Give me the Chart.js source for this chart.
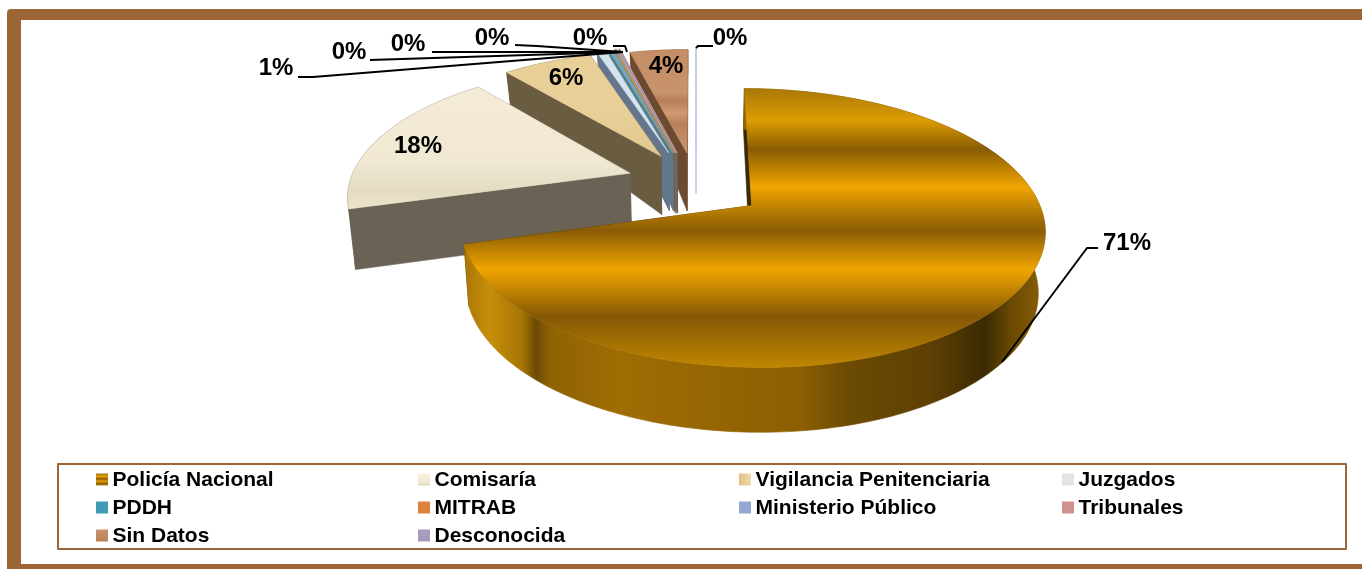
<!DOCTYPE html>
<html><head><meta charset="utf-8">
<style>html,body{margin:0;padding:0;background:#fff;overflow:hidden}canvas{display:block}</style>
<script src="https://cdn.jsdelivr.net/npm/chart.js@4"></script>
</head><body><canvas id="c" width="1362" height="569"></canvas>
<script>
// ---- data ----
const categories = ['Policía Nacional','Comisaría','Vigilancia Penitenciaria','Juzgados','PDDH','MITRAB','Ministerio Público','Tribunales','Sin Datos','Desconocida'];
const shares = [70.6,18.3,6.0,0.6,0.3,0.05,0.1,0.05,3.95,0.05];

// ---- styles and layout (not data) ----
const sliceExplodeU = [0.18,-0.245,-0.138,-0.11,-0.095,-0.09,-0.085,-0.08,-0.044,-0.011];
const sliceExplodeV = [0.12,-0.125,-0.26,-0.2875,-0.2875,-0.2875,-0.2875,-0.2875,-0.2875,-0.2875];
const sliceRadius = [0.985,0.985,1,1,1,1,1,1,0.98,1];
const topColors = ['#e0a000','#f0e8d2','#e6cd94','#d3e4ee','#6ea9b9','#e08a40','#94aed0','#d09090','#c48d65','#c4cfe2'];
const wallColors = ['#3a2a03','#6a6255','#6a5c40','#64758c','#5a7a88','#8a5a30','#5f7088','#7a5a50','#6b4a30','#c4cfe2'];
const swatchColors = [null,null,null,'#e1e5e8','#409cb5','#dc843f','#93a9d2','#d09090','#c48d65','#a99bc0'];
const wallDepthScale = [1,1,1,1,1,1,1,1,1,0.7];
const labelCenters = [[1127,243],[418,146],[566,78],[276,68],[349,52],[408,44],[492,38],[590,38],[666,66],[730,38]];
const leaders = [
  [[1098,248],[1087,248],[1002,362]],null,null,
  [[298,77],[313,77],[623,52]],
  [[370,60],[623,52]],
  [[432,52],[623,52]],
  [[515,45],[537,46],[623,52]],
  [[613,46],[625,46],[627,52]],null,
  [[713,46],[698,46],[696,48]]
];
const legendCols = [96,418,739,1062];
const legendRows = [480,508,536];
const FONT = '"Liberation Sans", Arial, sans-serif';
const P = {cx:699, cy:189.4, rx:287, ry:132.6, k:0.16};

function project(u,v){ const w=1-P.k*v; return [P.cx+P.rx*u/w, P.cy+P.ry*v/w]; }
function depthAt(v){ return v<0 ? 60-28*Math.min(1.3,(v/1.04)*(v/1.04)) : 60+5*(v/1.13); }
function projectBottom(u,v,s){ const p=project(u,v); return [P.cx+(p[0]-P.cx)*0.98, p[1]+depthAt(v)*s]; }
function pts(i,arc,fn){ // rim points in plane coords
  const out=[]; const n=Math.max(2,Math.ceil((arc.endAngle-arc.startAngle)/0.02)); const r=sliceRadius[i];
  for(let j=0;j<=n;j++){ const a=arc.startAngle+(arc.endAngle-arc.startAngle)*j/n;
    out.push(fn(sliceExplodeU[i]+r*Math.cos(a),sliceExplodeV[i]+r*Math.sin(a))); }
  return out;
}
function fillPoly(ctx,list,fill,thin){
  ctx.beginPath(); list.forEach((p,i)=>i?ctx.lineTo(p[0],p[1]):ctx.moveTo(p[0],p[1])); ctx.closePath();
  ctx.fillStyle=fill; ctx.fill();
  ctx.strokeStyle=fill; ctx.lineWidth=thin?1.2:0.6; ctx.stroke();
}
function gradY(ctx,y0,y1,stops){ const g=ctx.createLinearGradient(0,y0,0,y1); stops.forEach(s=>g.addColorStop(s[0],s[1])); return g; }
function gradX(ctx,x0,x1,stops){ const g=ctx.createLinearGradient(x0,0,x1,0); stops.forEach(s=>g.addColorStop((s[0]-x0)/(x1-x0),s[1])); return g; }

function mainTop(ctx){ return gradY(ctx,88,367,[[0,'#a87808'],[0.115,'#dc9c02'],[0.22,'#8a5c05'],[0.355,'#f0a500'],[0.51,'#8a5c05'],[0.65,'#f0a500'],[0.82,'#855805'],[1,'#c08600']]); }
function mainWall(ctx){ return gradX(ctx,462,1045,[[462,'#a87505'],[490,'#c68e0a'],[522,'#a87505'],[536,'#6b4a03'],[550,'#8f6204'],[620,'#a06d04'],[800,'#8c5f03'],[850,'#6b4a03'],[930,'#5f4003'],[985,'#3b2a03'],[1012,'#6b4a03'],[1045,'#8a6006']]); }

const pie3d = {
  id:'pie3d',
  beforeDraw(chart){
    const ctx=chart.ctx; ctx.save();
    ctx.fillStyle='#fff'; ctx.fillRect(0,0,1362,569);
    ctx.fillStyle='#9b6535';
    ctx.beginPath(); ctx.roundRect(7,9,1355,560,[4,0,0,0]); ctx.fill();
    ctx.fillStyle='#fff'; ctx.fillRect(21,20,1341,544);
    ctx.restore();
  },
  beforeDatasetDraw(chart,args){
    const ctx=chart.ctx, meta=chart.getDatasetMeta(args.index); ctx.save();
    for(let i=meta.data.length-1;i>=0;i--){
      const arc=meta.data[i], s=wallDepthScale[i], u0=sliceExplodeU[i], v0=sliceExplodeV[i];
      const top=pts(i,arc,project), bot=pts(i,arc,(u,v)=>projectBottom(u,v,s));
      const a=project(u0,v0), b=projectBottom(u0,v0,s);
      const wall=wallColors[i], thin=shares[i]<0.2;
      fillPoly(ctx,[a,top[0],bot[0],b],wall,thin);
      fillPoly(ctx,[a,top[top.length-1],bot[bot.length-1],b],wall,thin);
      fillPoly(ctx,top.concat(bot.slice().reverse()),i===0?mainWall(ctx):wall,thin);
      let fill=topColors[i];
      if(i===0) fill=mainTop(ctx);
      if(i===1) fill=gradY(ctx,88,210,[[0,'#f5ecd8'],[0.6,'#f0e8d2'],[0.85,'#e3dcc2'],[1,'#ece5cc']]);
      if(i===2) fill=gradY(ctx,55,155,[[0,'#e7cf96'],[0.5,'#e9d09a'],[1,'#e0c88e']]);
      if(i===8) fill=gradY(ctx,48,153,[[0,'#c48d65'],[0.42,'#c8946c'],[0.5,'#b88058'],[0.62,'#d09a72'],[0.72,'#b88058'],[1,'#c99670']]);
      fillPoly(ctx,[a].concat(top),fill,thin);
    }
    ctx.restore();
    return false;
  },
  afterDraw(chart){
    const ctx=chart.ctx; ctx.save();
    // leader lines
    ctx.strokeStyle='#000'; ctx.lineWidth=2; ctx.lineJoin='round';
    leaders.forEach(l=>{ if(!l) return; ctx.beginPath(); l.forEach((p,i)=>i?ctx.lineTo(p[0],p[1]):ctx.moveTo(p[0],p[1])); ctx.stroke(); });
    // value labels
    ctx.fillStyle='#000'; ctx.font='bold 24px '+FONT; ctx.textAlign='center'; ctx.textBaseline='middle';
    shares.forEach((v,i)=>ctx.fillText(Math.round(v)+'%',labelCenters[i][0],labelCenters[i][1]));
    // legend
    ctx.strokeStyle='#9b6535'; ctx.lineWidth=2; ctx.strokeRect(58,464,1288,85);
    ctx.font='bold 21px '+FONT; ctx.textAlign='left';
    categories.forEach((name,i)=>{
      const x=legendCols[i%4], y=legendRows[Math.floor(i/4)];
      let f=swatchColors[i];
      if(i===0) f=gradY(ctx,y-6,y+6,[[0,'#a87808'],[0.2,'#e8a000'],[0.4,'#8a5c05'],[0.6,'#e8a000'],[0.8,'#8a5c05'],[1,'#d09000']]);
      if(i===1) f=gradY(ctx,y-6,y+6,[[0,'#f8f0da'],[0.7,'#f0e8d2'],[1,'#d8d0b5']]);
      if(i===2) f=gradX(ctx,x,x+12,[[x,'#e0bf7c'],[x+12,'#f0dcb0']]);
      if(i===8) f=gradY(ctx,y-6,y+6,[[0,'#c89470'],[0.5,'#c08a60'],[1,'#b88058']]);
      ctx.fillStyle=f; ctx.fillRect(x,y-6.5,12,12);
      ctx.fillStyle='#000'; ctx.fillText(name,x+16.5,y+0.5);
    });
    ctx.restore();
  }
};

new Chart(document.getElementById('c'),{
  type:'pie',
  data:{labels:categories,datasets:[{data:shares,backgroundColor:topColors,borderWidth:0}]},
  options:{
    responsive:false,animation:false,rotation:0,
    plugins:{legend:{display:false},tooltip:{enabled:false}}
  },
  plugins:[pie3d]
});
</script></body></html>
